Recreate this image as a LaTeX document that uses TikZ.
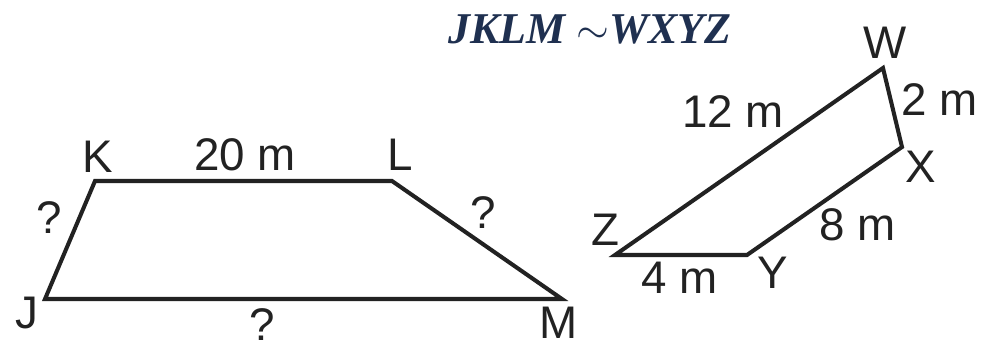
\documentclass[tikz,border=0pt]{standalone}
\usepackage{fontspec}
\setmainfont{Liberation Sans}
\newfontfamily\titlefont{Liberation Serif}
\usetikzlibrary{positioning}
\definecolor{cedge}{HTML}{222222}
\definecolor{ctitle}{HTML}{1F3050}
\tikzset{
  side/.style={draw=cedge, line width=1.15pt, line join=miter},
  lbl/.style={inner sep=0pt, text=cedge, font=\fontsize{13}{15}\selectfont},
  ttl/.style={inner sep=0pt, text=ctitle, font=\titlefont\bfseries\itshape\fontsize{12.5}{15}\selectfont},
}
\begin{document}
\begin{tikzpicture}[x=0.01cm, y=-0.01cm]
  \useasboundingbox (0,0) rectangle (987,342);
  % JKLM
  \coordinate (J) at (45,299); \coordinate (K) at (95,181);
  \coordinate (L) at (392,181); \coordinate (M) at (562,299);
  % WXYZ
  \coordinate (W) at (883,68); \coordinate (X) at (902,147);
  \coordinate (Y) at (747,255); \coordinate (Z) at (615,255);
  \draw[side] (J) -- (K) -- (L) -- (M) -- cycle;
  \draw[side] (W) -- (X) -- (Y) -- (Z) -- cycle;
  % vertex names
  \node[lbl] (jname) at (27,313) {J};  \node[lbl] (kname) at (98,157) {K};
  \node[lbl] (lname) at (400,155) {L}; \node[lbl] (mname) at (559,323) {M};
  \node[lbl] (wname) at (885,43) {W};  \node[lbl] (xname) at (921,167) {X};
  \node[lbl] (yname) at (773,273) {Y}; \node[lbl] (zname) at (605,230) {Z};
  % side lengths
  \node[lbl] (kl) at (245,155) {20 m}; \node[lbl] (jk) at (49,218) {?};
  \node[lbl] (lm) at (483,213) {?};    \node[lbl] (jm) at (262,325) {?};
  \node[lbl] (wz) at (733,112) {12 m}; \node[lbl] (wx) at (940,100) {2 m};
  \node[lbl] (xy) at (858,225) {8 m};  \node[lbl] (yz) at (680,278) {4 m};
  \node[ttl, anchor=base] (sim) at (590,43) {JKLM ${\sim}$WXYZ};
\end{tikzpicture}
\end{document}
